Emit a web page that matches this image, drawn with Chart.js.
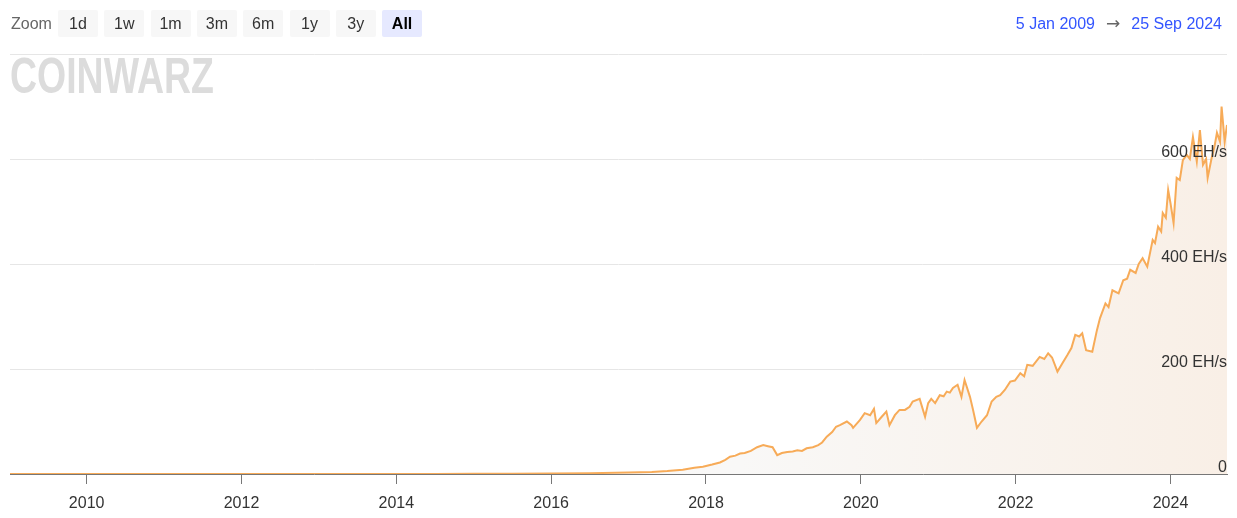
<!DOCTYPE html>
<html>
<head>
<meta charset="utf-8">
<script src="https://cdn.jsdelivr.net/npm/chart.js@4.4.0/dist/chart.umd.min.js"></script>
<style>
body { margin: 0; background: #fff; font-family: "Liberation Sans", Arial, sans-serif; }
#wrap { position: relative; width: 1237px; height: 518px; }
#zoomlabel { position: absolute; left: 11px; top: 10px; line-height: 27px; font-size: 16px; color: #666; }
.btn { position: absolute; top: 10px; width: 40px; height: 27px; line-height: 27px; text-align: center;
       font-size: 16px; color: #333; background: #f7f7f7; border-radius: 2px; }
.btn.on { background: #e6e9ff; color: #000; font-weight: bold; }
#range { position: absolute; right: 15px; top: 10px; line-height: 27px; font-size: 16px; color: #3355ff; }
#range .arr { color: #666; margin: 0 11px; font-family: "DejaVu Sans", sans-serif; font-size: 17px; }
</style>
</head>
<body>
<div id="wrap">
  <canvas id="hashchart"></canvas>
  <div id="zoomlabel">Zoom</div>
  <div id="buttons"></div>
  <div id="range"><span>5 Jan 2009</span><span class="arr">→</span><span>25 Sep 2024</span></div>
</div>
<script>
// network hashrate, EH/s, x = decimal year
var years = [2009.01, 2010.0, 2011.0, 2011.5, 2012.5, 2013.0, 2013.5, 2014.0, 2014.5, 2015.0, 2015.5, 2016.0, 2016.5,
  2017.0, 2017.3, 2017.5, 2017.7, 2017.85, 2017.96, 2018.08, 2018.18, 2018.25, 2018.31, 2018.38, 2018.44, 2018.5,
  2018.58, 2018.66, 2018.74, 2018.8, 2018.86, 2018.92, 2018.98, 2019.05, 2019.12, 2019.18, 2019.24, 2019.3, 2019.38,
  2019.45, 2019.5, 2019.56, 2019.63, 2019.68,
  2019.73, 2019.82, 2019.88, 2019.9, 2019.99, 2020.05, 2020.12, 2020.17, 2020.2, 2020.27, 2020.33, 2020.37, 2020.44,
  2020.5, 2020.57, 2020.63, 2020.67, 2020.76, 2020.83, 2020.87, 2020.91, 2020.96, 2021.02, 2021.07, 2021.11, 2021.15,
  2021.19, 2021.25, 2021.3, 2021.34, 2021.41, 2021.45, 2021.5, 2021.56, 2021.63, 2021.69, 2021.75,
  2021.8, 2021.86, 2021.93, 2021.99, 2022.06, 2022.11, 2022.15, 2022.22, 2022.31, 2022.37, 2022.42, 2022.47, 2022.54,
  2022.6, 2022.67, 2022.72, 2022.77, 2022.82, 2022.86, 2022.91, 2022.99, 2023.05, 2023.09, 2023.16, 2023.2, 2023.25,
  2023.33, 2023.39, 2023.44, 2023.48, 2023.55, 2023.59, 2023.64, 2023.7, 2023.77, 2023.8, 2023.84, 2023.88, 2023.9,
  2023.94, 2023.97, 2024.0, 2024.04, 2024.08, 2024.12, 2024.16, 2024.21, 2024.25, 2024.29, 2024.34, 2024.38, 2024.42,
  2024.46, 2024.48, 2024.53, 2024.57, 2024.6, 2024.64, 2024.66, 2024.7, 2024.73];
var hashrate = [0, 0, 0.00001, 0.00001, 0.00002, 0.00003, 0.0002, 0.01, 0.1, 0.3, 0.4, 0.9, 1.5,
  2.8, 3.8, 5.5, 8, 12, 14, 18, 22, 27, 33, 35, 39, 40,
  44, 51, 55, 53, 51, 36, 40, 42, 43, 45, 44, 49, 51,
  55, 60, 71, 80, 90,
  93, 100, 93, 88, 103, 116, 112, 124, 97, 109, 119, 93, 112,
  122, 122, 128, 138, 143, 109, 135, 143, 135, 150, 148, 157, 155,
  164, 170, 147, 179, 147, 122, 88, 100, 112, 138, 147,
  150, 160, 176, 178, 192, 186, 208, 206, 223, 219, 230, 222, 195,
  210, 227, 240, 265, 262, 268, 236, 233, 274, 297, 325, 318, 350,
  344, 369, 372, 389, 383, 400, 411, 395, 446, 440, 471, 462, 497,
  488, 541, 516, 478, 564, 560, 598, 608, 600, 642, 595, 655, 589,
  600, 564, 601, 625, 650, 633, 700, 633, 665];
var xTicks = [2010, 2012, 2014, 2016, 2018, 2020, 2022, 2024];
var yTicks = [0, 200, 400, 600, 800];
var zoomButtons = ['1d', '1w', '1m', '3m', '6m', '1y', '3y', 'All'];

var btnBox = document.getElementById('buttons');
zoomButtons.forEach(function (b, i) {
    var d = document.createElement('div');
    d.className = 'btn' + (b == 'All' ? ' on' : '');
    d.style.left = (58 + i * 46.3) + 'px';
    d.textContent = b;
    btnBox.appendChild(d);
});

var font = { family: '"Liberation Sans", Arial, sans-serif', size: 16 };
var setTicks = function (list) {
    return function (axis) { axis.ticks = list.map(function (v) { return { value: v }; }); };
};

var watermark = {
    id: 'watermark',
    beforeDatasetsDraw: function (chart) {
        var c = chart.ctx;
        c.save();
        c.fillStyle = '#dcdcdc';
        c.font = 'bold 50px "Liberation Sans", Arial, sans-serif';
        c.textBaseline = 'alphabetic';
        c.fillText('COINWARZ', 10, 93, 204);
        c.restore();
    }
};

var ctx = document.getElementById('hashchart');
var myChart = new Chart(ctx, {
    type: 'line',
    data: {
        datasets: [{
            label: 'Hashrate',
            data: years.map(function (y, i) { return { x: y, y: hashrate[i] }; }),
            borderColor: '#f7ab58',
            borderWidth: 2,
            pointRadius: 0,
            tension: 0,
            fill: 'origin',
            backgroundColor: function (c) {
                var a = c.chart.chartArea;
                if (!a) return 'rgba(0,0,0,0)';
                var g = c.chart.ctx.createLinearGradient(a.left, 0, a.right, 0);
                g.addColorStop(0, '#fafafa');
                g.addColorStop(0.6, '#f9f8f7');
                g.addColorStop(1, '#f9efe6');
                return g;
            }
        }]
    },
    options: {
        responsive: true,
        maintainAspectRatio: false,
        animation: false,
        layout: { padding: { left: 10, right: 10, top: 54, bottom: 0 } },
        plugins: { legend: { display: false }, tooltip: { enabled: false } },
        scales: {
            x: {
                type: 'linear',
                min: 2009.01,
                max: 2024.73,
                afterBuildTicks: setTicks(xTicks),
                afterFit: function (axis) { axis.height = 44; },
                grid: { drawOnChartArea: false, drawTicks: true, tickLength: 10, color: '#777' },
                border: { color: '#777' },
                ticks: { color: '#333', font: font, padding: 10, maxRotation: 0,
                         callback: function (v) { return String(v); } }
            },
            y: {
                position: 'right',
                min: 0,
                max: 800,
                afterBuildTicks: setTicks(yTicks),
                grid: { color: '#e6e6e6', drawTicks: false },
                border: { display: false },
                // z 1: labels go on top of the area fill
                ticks: { z: 1, mirror: true, padding: 0, labelOffset: -6, color: '#333', font: font,
                         callback: function (v) { return v == 0 ? '0' : (v == 800 ? '' : v + ' EH/s'); } }
            }
        }
    },
    plugins: [watermark]
});
</script>
</body>
</html>
